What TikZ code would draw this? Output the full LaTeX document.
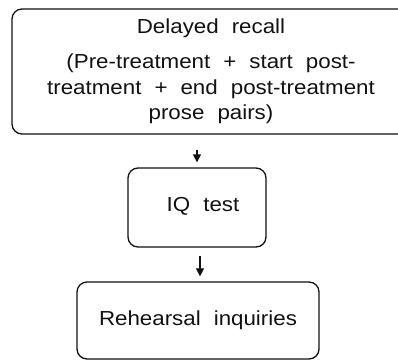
\documentclass[tikz,border=0pt]{standalone}
\usepackage{fontspec}
\setmainfont{Liberation Sans}[FakeStretch=1.1, WordSpace=2.1]
\usetikzlibrary{arrows.meta}
\definecolor{ink}{HTML}{111111}
\tikzset{
  box/.style={draw=ink, line width=1.3pt, rounded corners=10pt, inner sep=0pt, align=center,
    font=\fontsize{20.3}{25.5}\selectfont, text=ink},
  arr/.style={draw=ink, line width=1.5pt, -{Triangle[length=8pt,width=8pt]}}
}
\begin{document}
\begin{tikzpicture}[x=1pt,y=-1pt]
\useasboundingbox (0,0) rectangle (398,360);
\clip (0,0) rectangle (398,360);
\node[box, minimum width=398pt, minimum height=125pt] (top) at (211,71.5)
  {Delayed recall\\[9.5pt](Pre-treatment + start post-\\treatment + end post-treatment\\prose pairs)};
\node[box, minimum width=138pt, minimum height=79pt,
  label={[font=\fontsize{20.3}{24}\selectfont, text=ink, xshift=6pt, yshift=1pt]center:IQ test}] (iq) at (197,207.5) {};
\node[box, minimum width=242pt, minimum height=77pt] (bot) at (198,320.5) {Rehearsal inquiries};
\draw[arr, shorten <=15pt, shorten >=5pt] (top.south -| iq.north) -- (iq.north);
\draw[arr, shorten <=8pt, shorten >=5pt] ([xshift=3pt]iq.south) -- ([xshift=3pt]iq.south |- bot.north);
\end{tikzpicture}
\end{document}
